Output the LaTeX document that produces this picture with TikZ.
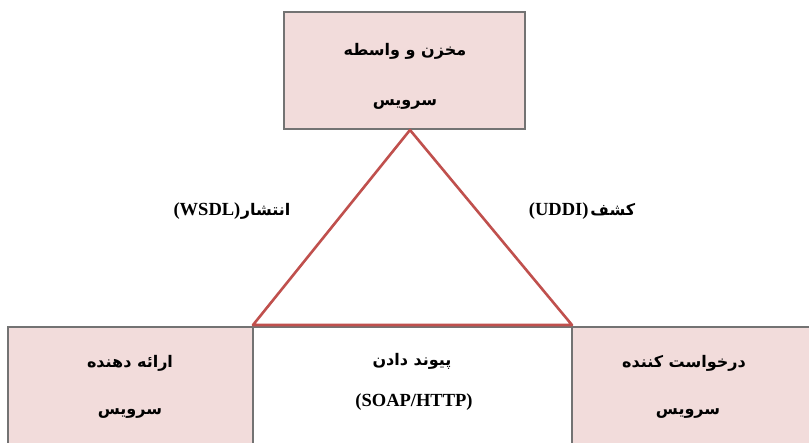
\documentclass[tikz,border=0pt]{standalone}
\usepackage{fontspec}
\setmainfont{Liberation Serif}
\newfontfamily\fa[Script=Arabic]{DejaVu Sans}
\TeXXeTstate=1
\tikzset{
  box/.style={draw=black!55, line width=1.6pt, fill=pinkbox, inner sep=0pt},
  wbox/.style={draw=black!55, line width=1.6pt, fill=white, inner sep=0pt},
  fatxt/.style={font=\fa\bfseries\fontsize{16}{18}\selectfont, inner sep=0pt},
  latxt/.style={font=\bfseries\fontsize{18.5}{20}\selectfont, inner sep=0pt},
  tri/.style={draw=trired, line width=2.6pt, line join=round}
}
\definecolor{pinkbox}{HTML}{F2DCDB}
\definecolor{trired}{HTML}{C0504D}
\begin{document}
\begin{tikzpicture}[x=1pt,y=1pt]
\useasboundingbox (0,0) rectangle (809,443);
\clip (0,0) rectangle (809,443);
\fill[white] (0,0) rectangle (809,443);
% boxes
\node[box, minimum width=241pt, minimum height=117pt] (top) at (404.5,372.5) {};
\node[box, minimum width=245pt, minimum height=140pt] (left) at (130.5,46) {};
\node[wbox, minimum width=319pt, minimum height=140pt] (mid) at (412.5,46) {};
\node[box, minimum width=260pt, minimum height=140pt] (right) at (702,46) {};
% triangle
\coordinate (apex) at (410,313);
\coordinate (bl) at (253,118);
\coordinate (br) at (572,118);
\draw[tri] (apex) -- (bl) -- (br) -- cycle;
% texts
\node[fatxt] (t1) at (405,392) {\beginR مخزن و واسطه\endR};
\node[fatxt] (t2) at (405,338) {\beginR سرویس\endR};
\node[inner sep=0pt] (lab1) at (232,232) {\textbf{\fontsize{18.5}{20}\selectfont (WSDL)}\hspace{0.5pt}{\fa\bfseries\fontsize{16}{18}\selectfont\beginR انتشار\endR}};
\node[inner sep=0pt] (lab2) at (582,232) {\textbf{\fontsize{18.5}{20}\selectfont (UDDI)}\hspace{2pt}{\fa\bfseries\fontsize{16}{18}\selectfont\beginR کشف\endR}};
\node[fatxt] (l1) at (130,80) {\beginR ارائه دهنده\endR};
\node[fatxt] (l2) at (130,29) {\beginR سرویس\endR};
\node[fatxt] (m1) at (412,82) {\beginR پیوند دادن\endR};
\node[latxt] (m2) at (414,41) {(SOAP/HTTP)};
\node[fatxt] (r1) at (684,80) {\beginR درخواست کننده\endR};
\node[fatxt] (r2) at (688,29) {\beginR سرویس\endR};
\end{tikzpicture}
\end{document}
